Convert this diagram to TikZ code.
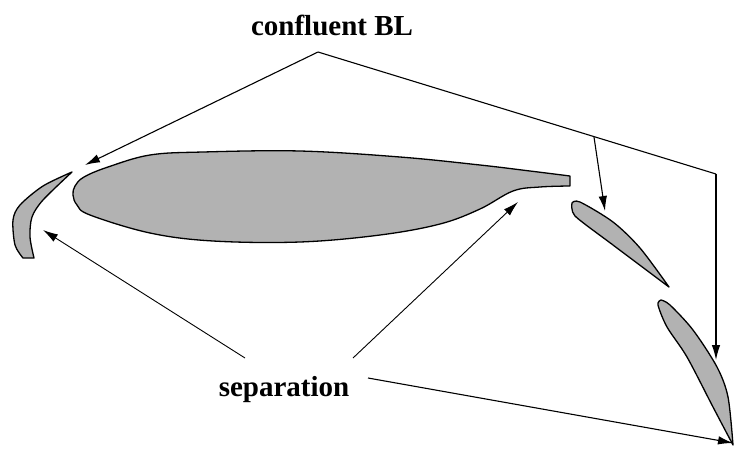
\documentclass[tikz,border=0pt]{standalone}
\usepackage{fontspec}
\setmainfont{Liberation Serif}
\usetikzlibrary{arrows.meta}
\definecolor{foil}{gray}{0.70}
\tikzset{
  foilshape/.style={draw=black,fill=foil,line width=1.3pt,line join=round},
  conn/.style={draw=black,line width=1.1pt},
  thin conn/.style={draw=black,line width=0.9pt},
  tip/.style={-{Latex[length=15pt,width=8.5pt]}},
  lbl/.style={font=\fontsize{29}{32}\selectfont\bfseries,inner sep=0pt,text=black,anchor=base}
}
\begin{document}
\begin{tikzpicture}[x=1pt,y=-1pt]
\useasboundingbox (0,0) rectangle (734,453);
% main airfoil
\draw[foilshape] plot[smooth,tension=0.6] coordinates {(570,176) (530,171) (480,165) (400,157) (300,151) (203,152) (150,155) (108,167) (84,177) (75,186) (73,195) (77,205) (90,215) (150,233) (213,241) (300,242) (380,235) (440,224) (480,209) (513,191) (540,187) (570,186)} -- cycle;
% slat
\draw[foilshape] plot[smooth,tension=0.5] coordinates {(72,172) (43,186) (20,205) (13,220) (15,245) (23,258)} -- (34,258) -- plot[smooth,tension=0.5] coordinates {(34,258) (30,237) (32,217) (43,200) (72,172)} -- cycle;
% flap 1
\draw[foilshape] plot[smooth,tension=0.5] coordinates {(572,203) (580,202) (613,222) (640,248) (669,287)} -- plot[smooth,tension=0.4] coordinates {(669,287) (613,245) (575,216) (572,203)} -- cycle;
% flap 2
\draw[foilshape] plot[smooth,tension=0.5] coordinates {(661,300) (670,305) (693,330) (717,367) (728,397) (733,445)} -- plot[smooth,tension=0.5] coordinates {(733,445) (713,407) (687,357) (667,327) (658,305) (661,300)} -- cycle;
% labels
\node[lbl] (confluent) at (332,35) {confluent BL};
\node[lbl] (separation) at (284,396) {separation};
% connector points
\coordinate (apex) at (318,52);
\coordinate (corner) at (716,174);
\coordinate (branch) at (594,137);
\coordinate (slatTop) at (85,165);
\coordinate (flapOne) at (605,211);
\coordinate (flapTwo) at (716,360);
\coordinate (slatLow) at (43,230);
\coordinate (mainLow) at (518,202);
\coordinate (flapTwoLow) at (733,443);
\coordinate (sepA) at (245,358);
\coordinate (sepB) at (353,358);
\coordinate (sepC) at (368,378);
% confluent BL arrows
\draw[conn,tip] (apex) -- (slatTop);
\draw[conn] (apex) -- (corner);
\draw[conn,tip] (corner) -- (flapTwo);
\draw[conn,tip] (branch) -- (flapOne);
% separation arrows
\draw[thin conn,tip] (sepA) -- (slatLow);
\draw[thin conn,tip] (sepB) -- (mainLow);
\draw[conn,tip] (sepC) -- (flapTwoLow);
\end{tikzpicture}
\end{document}
